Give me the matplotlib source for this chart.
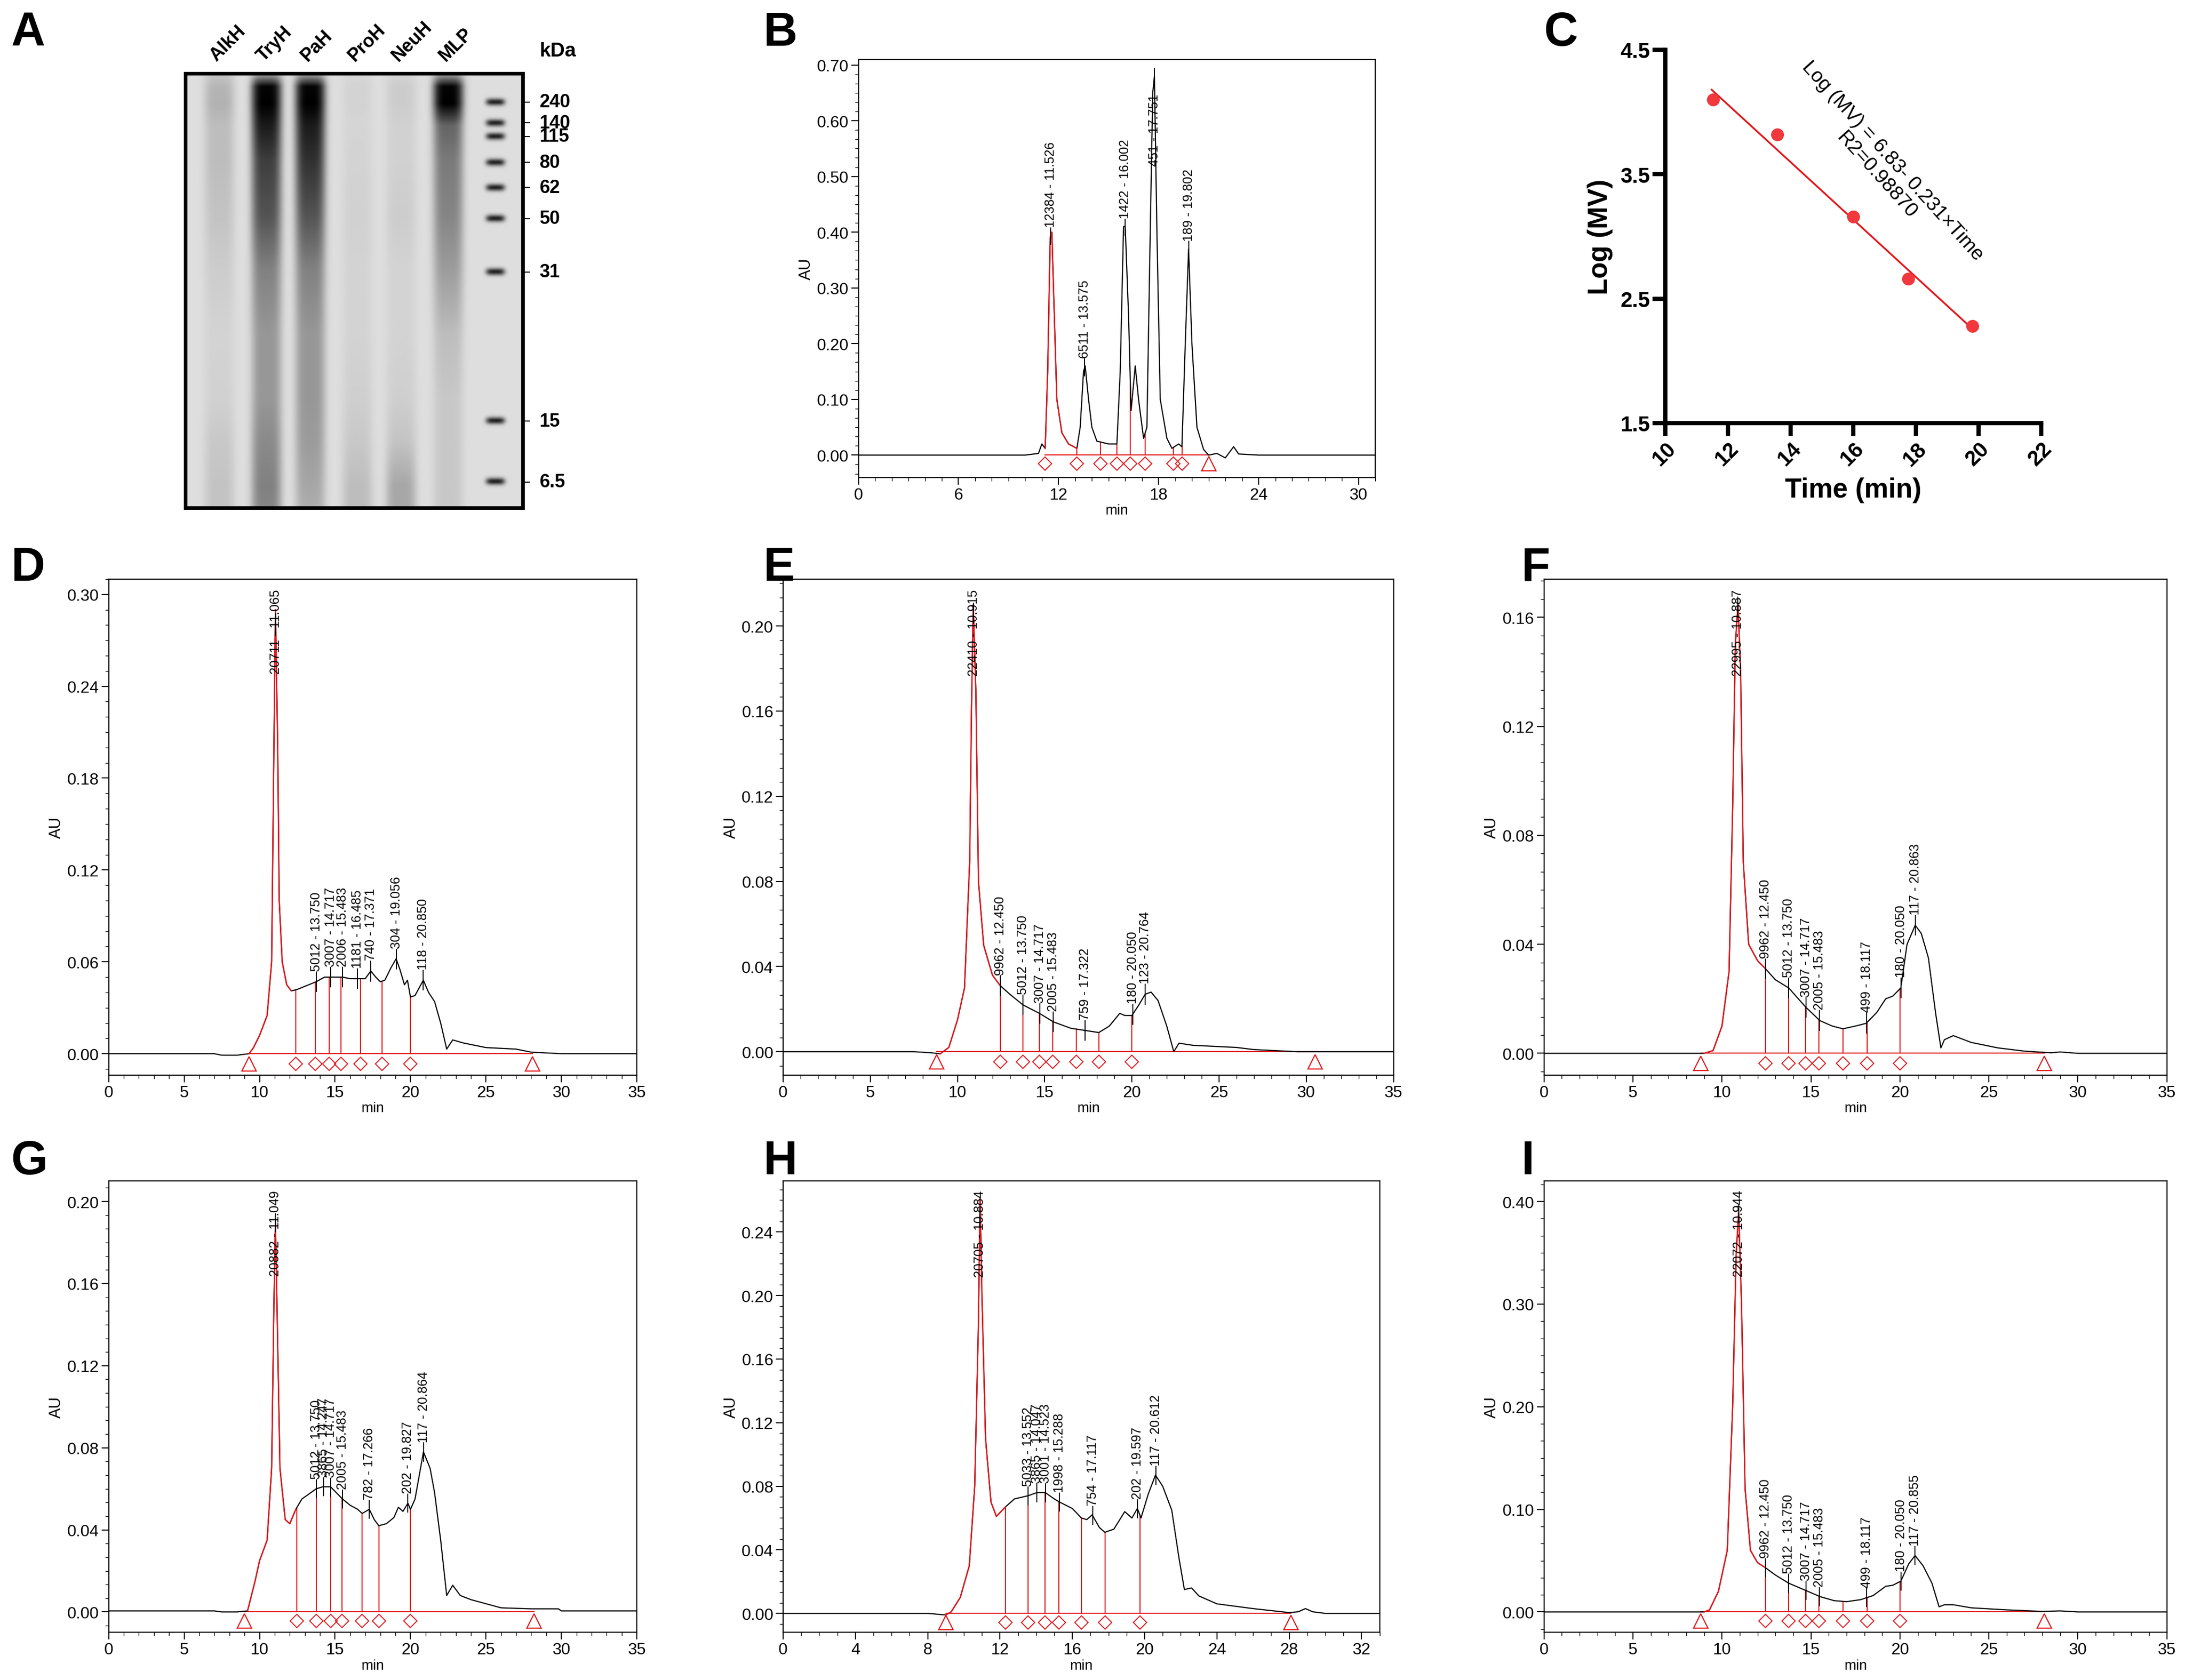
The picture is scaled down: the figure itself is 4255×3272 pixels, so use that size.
import numpy as np
import matplotlib
matplotlib.use("Agg")
import matplotlib.pyplot as plt
from matplotlib.ticker import MultipleLocator, FormatStrFormatter

plt.rcParams["font.family"] = "Liberation Sans"

# ---------------- data ----------------
gel_lanes = ["AlkH", "TryH", "PaH", "ProH", "NeuH", "MLP"]
gel_marker_kda = ["240", "140", "115", "80", "62", "50", "31", "15", "6.5"]
gel_marker_pos = [0.066, 0.114, 0.145, 0.205, 0.263, 0.334, 0.457, 0.80, 0.94]
gel_profile_pos = [0.0, 0.03, 0.07, 0.12, 0.20, 0.33, 0.45, 0.60, 0.75, 0.85, 0.95, 1.0]
gel_darkness = {
    "AlkH": [0.10, 0.18, 0.20, 0.15, 0.15, 0.12, 0.08, 0.05, 0.06, 0.10, 0.12, 0.12],
    "TryH": [0.20, 0.98, 1.00, 0.88, 0.72, 0.62, 0.42, 0.32, 0.32, 0.38, 0.42, 0.40],
    "PaH":  [0.20, 0.98, 1.00, 0.88, 0.78, 0.62, 0.42, 0.32, 0.32, 0.30, 0.25, 0.22],
    "ProH": [0.03, 0.05, 0.05, 0.04, 0.05, 0.06, 0.05, 0.05, 0.07, 0.10, 0.15, 0.15],
    "NeuH": [0.04, 0.08, 0.08, 0.06, 0.06, 0.08, 0.05, 0.05, 0.07, 0.12, 0.25, 0.25],
    "MLP":  [0.20, 0.98, 1.00, 0.55, 0.45, 0.40, 0.30, 0.15, 0.10, 0.10, 0.10, 0.10],
}
gel_lane_x = [0.10, 0.24, 0.37, 0.51, 0.64, 0.78]
gel_marker_x = 0.92

calib_time = [11.53, 13.58, 16.00, 17.75, 19.80]
calib_logmv = [4.10, 3.82, 3.16, 2.66, 2.28]
fit_intercept, fit_slope = 6.83, -0.231

chrom = {
    "B": dict(
        t=[0, 10, 10.8, 11.0, 11.2, 11.35, 11.5, 11.6, 11.75, 11.9, 12.2, 12.6, 13.1, 13.3, 13.5, 13.6, 13.8, 14.0, 14.3, 15.0, 15.5, 15.7, 15.9, 16.0, 16.2, 16.35, 16.6, 16.8, 17.1, 17.3, 17.5, 17.65, 17.75, 17.9, 18.1, 18.5, 18.8, 19.2, 19.4, 19.6, 19.8, 20.0, 20.3, 20.7, 21.0, 21.5, 22.0, 22.5, 22.8, 24, 31],
        y=[0, 0, 0.003, 0.02, 0.012, 0.15, 0.39, 0.40, 0.25, 0.10, 0.04, 0.02, 0.012, 0.05, 0.15, 0.16, 0.10, 0.05, 0.025, 0.02, 0.02, 0.15, 0.41, 0.41, 0.25, 0.08, 0.16, 0.10, 0.03, 0.05, 0.40, 0.65, 0.68, 0.40, 0.10, 0.03, 0.012, 0.02, 0.015, 0.20, 0.37, 0.20, 0.05, 0.01, 0.0, 0.003, -0.005, 0.015, 0.002, 0, 0],
        bounds=[11.2, 13.1, 14.5, 15.5, 16.3, 17.2, 18.9, 19.4], tri=[None, 21.0],
        peaks=[11.526, 13.575, 16.002, 17.751, 19.802],
        labels=["12384 - 11.526", "6511 - 13.575", "1422 - 16.002", "451 - 17.751", "189 - 19.802"],
        xlim=(0, 31), xstep=6, ylim=(-0.04, 0.71), ystep=0.10, fmt="%.2f", ylabel="AU"),
    "D": dict(
        t=[0, 7, 7.5, 8.5, 9.3, 9.6, 10.0, 10.5, 10.8, 10.95, 11.05, 11.2, 11.3, 11.5, 11.8, 12.1, 12.5, 13.0, 13.75, 14.3, 15, 15.5, 16, 16.5, 17.0, 17.37, 17.7, 18.0, 18.3, 18.7, 19.05, 19.3, 19.6, 19.8, 20.0, 20.3, 20.85, 21.2, 21.6, 22.0, 22.4, 22.8, 23.5, 25, 27, 28, 30, 35],
        y=[0, 0, -0.001, -0.001, 0.0, 0.004, 0.012, 0.025, 0.06, 0.20, 0.29, 0.20, 0.10, 0.06, 0.045, 0.041, 0.042, 0.044, 0.047, 0.050, 0.050, 0.050, 0.049, 0.049, 0.049, 0.054, 0.050, 0.047, 0.048, 0.056, 0.062, 0.055, 0.045, 0.048, 0.037, 0.038, 0.048, 0.040, 0.034, 0.020, 0.003, 0.009, 0.007, 0.004, 0.003, 0.001, 0.0, 0],
        bounds=[12.4, 13.7, 14.6, 15.4, 16.7, 18.1, 20.0], tri=[9.3, 28.1],
        peaks=[11.065, 13.750, 14.717, 15.483, 16.485, 17.371, 19.056, 20.850],
        labels=["20711 - 11.065", "5012 - 13.750", "3007 - 14.717", "2006 - 15.483", "1181 - 16.485", "740 - 17.371", "304 - 19.056", "118 - 20.850"],
        xlim=(0, 35), xstep=5, ylim=(-0.014, 0.31), ystep=0.06, fmt="%.2f", ylabel="AU"),
    "E": dict(
        t=[0, 7.5, 8.5, 9.0, 9.5, 10, 10.4, 10.7, 10.8, 10.9, 11.05, 11.2, 11.5, 12.0, 12.45, 13, 13.75, 14.7, 15.5, 16.5, 17.3, 18.1, 18.7, 19.3, 19.6, 20.0, 20.4, 20.76, 21.1, 21.5, 22.0, 22.4, 22.7, 23.5, 26, 27, 29.5, 35],
        y=[0, 0, -0.0005, -0.001, 0.002, 0.015, 0.030, 0.090, 0.160, 0.210, 0.170, 0.080, 0.050, 0.036, 0.031, 0.027, 0.022, 0.018, 0.014, 0.011, 0.010, 0.009, 0.012, 0.018, 0.017, 0.017, 0.022, 0.027, 0.028, 0.024, 0.012, 0.0, 0.004, 0.003, 0.002, 0.001, 0.0, 0],
        bounds=[12.45, 13.75, 14.7, 15.45, 16.8, 18.1, 20.0], tri=[8.8, 30.5],
        peaks=[10.915, 12.450, 13.750, 14.717, 15.483, 17.322, 20.050, 20.764],
        labels=["22410 - 10.915", "9962 - 12.450", "5012 - 13.750", "3007 - 14.717", "2005 - 15.483", "759 - 17.322", "180 - 20.050", "123 - 20.764"],
        xlim=(0, 35), xstep=5, ylim=(-0.011, 0.222), ystep=0.04, fmt="%.2f", ylabel="AU"),
    "F": dict(
        t=[0, 9, 9.5, 10, 10.4, 10.6, 10.75, 10.9, 11.05, 11.2, 11.5, 12.0, 12.45, 13.0, 13.75, 14.7, 15.5, 16.2, 16.8, 17.5, 18.1, 18.7, 19.2, 19.6, 20.05, 20.4, 20.86, 21.2, 21.6, 22.0, 22.3, 22.5, 23, 24, 25.5, 27, 28.5, 29, 30, 35],
        y=[0, 0, 0.001, 0.010, 0.030, 0.090, 0.150, 0.165, 0.140, 0.070, 0.040, 0.034, 0.031, 0.027, 0.024, 0.017, 0.012, 0.010, 0.009, 0.010, 0.011, 0.015, 0.020, 0.021, 0.024, 0.040, 0.047, 0.044, 0.035, 0.015, 0.002, 0.005, 0.0065, 0.004, 0.002, 0.0008, 0.0002, 0.0005, 0, 0],
        bounds=[12.45, 13.75, 14.7, 15.45, 16.8, 18.15, 20.0], tri=[8.8, 28.1],
        peaks=[10.887, 12.450, 13.750, 14.717, 15.483, 18.117, 20.050, 20.863],
        labels=["22995 - 10.887", "9962 - 12.450", "5012 - 13.750", "3007 - 14.717", "2005 - 15.483", "499 - 18.117", "180 - 20.050", "117 - 20.863"],
        xlim=(0, 35), xstep=5, ylim=(-0.008, 0.174), ystep=0.04, fmt="%.2f", ylabel="AU"),
    "G": dict(
        t=[0, 7, 7.5, 8.5, 9.2, 9.7, 10, 10.5, 10.8, 10.95, 11.05, 11.2, 11.35, 11.7, 12.0, 12.4, 12.8, 13.75, 14.2, 14.7, 15.1, 15.5, 16.0, 16.5, 16.8, 17.27, 17.6, 17.9, 18.4, 18.9, 19.2, 19.5, 19.83, 20.0, 20.3, 20.86, 21.3, 21.6, 22.0, 22.4, 22.8, 23.3, 24, 25, 26, 28, 29.8, 30, 35],
        y=[0.0005, 0.0005, 0, 0, 0.0005, 0.015, 0.025, 0.035, 0.07, 0.15, 0.19, 0.13, 0.07, 0.045, 0.043, 0.050, 0.055, 0.060, 0.061, 0.061, 0.058, 0.055, 0.052, 0.050, 0.048, 0.050, 0.045, 0.042, 0.043, 0.046, 0.051, 0.049, 0.053, 0.050, 0.055, 0.078, 0.070, 0.058, 0.035, 0.008, 0.013, 0.008, 0.006, 0.004, 0.002, 0.0015, 0.0015, 0.0005, 0.0005],
        bounds=[12.45, 13.75, 14.7, 15.45, 16.8, 17.9, 20.0], tri=[9.0, 28.2],
        peaks=[11.049, 13.750, 14.247, 14.717, 15.483, 17.266, 19.827, 20.864],
        labels=["20882 - 11.049", "5012 - 13.750", "3865 - 14.247", "3007 - 14.717", "2005 - 15.483", "782 - 17.266", "202 - 19.827", "117 - 20.864"],
        xlim=(0, 35), xstep=5, ylim=(-0.010, 0.21), ystep=0.04, fmt="%.2f", ylabel="AU"),
    "H": dict(
        t=[0, 8, 9, 9.3, 9.8, 10.3, 10.6, 10.8, 10.9, 11.0, 11.2, 11.5, 11.8, 12.3, 12.8, 13.55, 14.05, 14.5, 15.0, 15.3, 16.0, 16.5, 16.8, 17.1, 17.5, 17.8, 18.3, 18.9, 19.3, 19.6, 19.8, 20.2, 20.6, 21.0, 21.5, 21.9, 22.2, 22.6, 23, 24, 26, 28, 28.5, 28.9, 29.3, 30, 33],
        y=[0, 0, -0.001, 0.001, 0.010, 0.030, 0.080, 0.180, 0.262, 0.200, 0.110, 0.070, 0.061, 0.067, 0.072, 0.074, 0.076, 0.076, 0.072, 0.070, 0.066, 0.060, 0.059, 0.062, 0.054, 0.051, 0.053, 0.064, 0.060, 0.066, 0.060, 0.075, 0.087, 0.080, 0.065, 0.035, 0.015, 0.016, 0.011, 0.006, 0.003, 0.0005, 0.001, 0.003, 0.001, 0, 0],
        bounds=[12.3, 13.55, 14.5, 15.25, 16.5, 17.8, 19.75], tri=[9.0, 28.1],
        peaks=[10.884, 13.552, 14.047, 14.523, 15.288, 17.117, 19.597, 20.612],
        labels=["20705 - 10.884", "5033 - 13.552", "3865 - 14.047", "3001 - 14.523", "1998 - 15.288", "754 - 17.117", "202 - 19.597", "117 - 20.612"],
        xlim=(0, 33), xstep=4, ylim=(-0.012, 0.272), ystep=0.04, fmt="%.2f", ylabel="AU"),
    "I": dict(
        t=[0, 9, 9.3, 9.8, 10.3, 10.6, 10.8, 10.94, 11.1, 11.3, 11.6, 12.0, 12.45, 13.0, 13.75, 14.7, 15.5, 16.3, 17.0, 17.8, 18.5, 19.2, 19.6, 20.05, 20.5, 20.85, 21.3, 21.8, 22.2, 22.5, 23, 24, 26, 28, 29, 30, 35],
        y=[0, 0, 0.002, 0.020, 0.060, 0.200, 0.350, 0.390, 0.300, 0.120, 0.060, 0.048, 0.043, 0.036, 0.028, 0.021, 0.015, 0.011, 0.010, 0.012, 0.016, 0.025, 0.026, 0.030, 0.047, 0.055, 0.045, 0.028, 0.005, 0.007, 0.007, 0.004, 0.002, 0.0005, 0.001, 0, 0],
        bounds=[12.45, 13.75, 14.7, 15.45, 16.8, 18.15, 20.0], tri=[8.8, 28.1],
        peaks=[10.944, 12.450, 13.750, 14.717, 15.483, 18.117, 20.050, 20.855],
        labels=["22072 - 10.944", "9962 - 12.450", "5012 - 13.750", "3007 - 14.717", "2005 - 15.483", "499 - 18.117", "180 - 20.050", "117 - 20.855"],
        xlim=(0, 35), xstep=5, ylim=(-0.020, 0.42), ystep=0.10, fmt="%.2f", ylabel="AU"),
}

W, H = 4255, 3273
fig = plt.figure(figsize=(W / 100, H / 100), dpi=100)


def frac(x0, y0, x1, y1):
    s = W / 1568.0
    return [x0 * s / W, 1 - y1 * s / H, (x1 - x0) * s / W, (y1 - y0) * s / H]


RED = "#e3161b"


def draw_chrom(ax, d):
    t = np.array(d["t"], float)
    y = np.array(d["y"], float)
    yr = d["ylim"][1] - d["ylim"][0]
    ax.plot(t, y, color="black", lw=1.6, zorder=3)
    start = d["tri"][0] if d["tri"][0] is not None else d["bounds"][0]
    m = (t >= start) & (t <= d["bounds"][1] if d["tri"][0] is None else t <= d["bounds"][0])
    ax.plot(t[m], y[m], color=RED, lw=1.8, zorder=4)
    end = d["tri"][1]
    ax.plot([start, end], [0, 0], color=RED, lw=1.5, zorder=2)
    drops = d["bounds"] if d["tri"][0] is not None else d["bounds"][1:]
    for b in drops:
        ax.plot([b, b], [0, np.interp(b, t, y)], color=RED, lw=1.5, zorder=2)
    ax.plot(d["bounds"], [-0.02 * yr] * len(d["bounds"]), ls="none", marker="D", ms=13,
            mfc="none", mec=RED, mew=1.4, zorder=5)
    tris = [v for v in d["tri"] if v is not None]
    ax.plot(tris, [-0.02 * yr] * len(tris), ls="none", marker="^", ms=20,
            mfc="none", mec=RED, mew=1.6, zorder=5)
    for i, (pk, lab) in enumerate(zip(d["peaks"], d["labels"])):
        ya = np.interp(pk, t, y)
        ax.plot([pk, pk], [ya - 0.02 * yr, ya + 0.02 * yr], color="black", lw=1.4, zorder=6)
        if i == 0 and d["tri"][0] is not None:
            ax.text(pk, d["ylim"][1] - 0.02 * yr, lab, rotation=90, ha="center", va="top",
                    fontsize=18, zorder=7)
        elif ya > 0.8 * d["ylim"][1]:
            ax.text(pk, ya - 0.04 * yr, lab, rotation=90, ha="center", va="top",
                    fontsize=18, zorder=7)
        else:
            ax.text(pk, ya + 0.022 * yr, lab, rotation=90, ha="center", va="bottom",
                    fontsize=18, zorder=7)
    ax.set_xlim(*d["xlim"])
    ax.set_ylim(*d["ylim"])
    ax.xaxis.set_major_locator(MultipleLocator(d["xstep"]))
    ax.xaxis.set_minor_locator(MultipleLocator(1))
    ax.yaxis.set_major_locator(MultipleLocator(d["ystep"]))
    ax.yaxis.set_minor_locator(MultipleLocator(d["ystep"] / 6))
    ax.yaxis.set_major_formatter(FormatStrFormatter(d["fmt"]))
    ax.tick_params(which="major", direction="out", length=10, width=1.5, labelsize=23)
    ax.tick_params(which="minor", direction="out", length=5, width=1.0)
    for s in ax.spines.values():
        s.set_linewidth(1.6)
    ax.set_xlabel("min", fontsize=20, labelpad=2)
    ax.set_ylabel(d["ylabel"], fontsize=22)


boxes = {
    "B": frac(616, 43, 987, 343),
    "D": frac(78, 416, 457, 772),
    "E": frac(562, 416, 1000, 772),
    "F": frac(1108, 416, 1555, 772),
    "G": frac(78, 848, 457, 1172),
    "H": frac(562, 848, 990, 1172),
    "I": frac(1108, 848, 1555, 1172),
}
for k, b in boxes.items():
    ax = fig.add_axes(b)
    draw_chrom(ax, chrom[k])

# ---------------- panel A: gel ----------------
axA = fig.add_axes(frac(133, 53, 375, 365))
ny, nx = 500, 400
yy = np.linspace(0, 1, ny)[:, None]
xx = np.linspace(0, 1, nx)[None, :]
img = np.full((ny, nx), 0.87)
dark = np.zeros((ny, nx))
for lane, lx in zip(gel_lanes, gel_lane_x):
    prof = np.interp(yy[:, 0], gel_profile_pos, gel_darkness[lane])[:, None]
    mask = np.exp(-((xx - lx) / 0.045) ** 4)
    dark += prof * mask
for mp in gel_marker_pos:
    dark += 0.85 * np.exp(-((xx - gel_marker_x) / 0.028) ** 4) * np.exp(-((yy - mp) / 0.008) ** 2)
img = np.clip(img - 0.87 * dark, 0, 1)
axA.imshow(img, cmap="gray", vmin=0, vmax=1, extent=[0, 1, 1, 0], aspect="auto")
axA.set_xlim(0, 1)
axA.set_ylim(1, 0)
axA.set_xticks([])
axA.set_yticks([])
for s in axA.spines.values():
    s.set_linewidth(5)
for lane, lx in zip(gel_lanes, gel_lane_x):
    axA.text(lx, -0.02, lane, rotation=45, ha="left", va="bottom", fontsize=26,
             fontweight="bold", clip_on=False, rotation_mode="anchor")
for kda, mp in zip(gel_marker_kda, gel_marker_pos):
    axA.plot([1.0, 1.02], [mp, mp], color="black", lw=1.5, clip_on=False)
    axA.text(1.05, mp, kda, ha="left", va="center", fontsize=26, fontweight="bold", clip_on=False)
axA.text(1.05, -0.03, "kDa", ha="left", va="bottom", fontsize=28, fontweight="bold", clip_on=False)

# ---------------- panel C: calibration ----------------
axC = fig.add_axes(frac(1195, 36, 1465, 304))
fit_x = np.array([min(calib_time) - 0.05, max(calib_time)])
axC.plot(fit_x, fit_intercept + fit_slope * fit_x, color=RED, lw=2.5, zorder=2)
axC.plot(calib_time, calib_logmv, "o", color="#f0383d", ms=17, zorder=3)
axC.set_xlim(10, 22)
axC.set_ylim(1.5, 4.5)
axC.set_xticks(range(10, 23, 2))
axC.set_yticks([1.5, 2.5, 3.5, 4.5])
axC.spines["top"].set_visible(False)
axC.spines["right"].set_visible(False)
for s in ("left", "bottom"):
    axC.spines[s].set_linewidth(6)
axC.tick_params(direction="out", length=18, width=6, labelsize=30)
for lab in axC.get_xticklabels():
    lab.set_rotation(45)
    lab.set_fontweight("bold")
    lab.set_ha("right")
    lab.set_rotation_mode("anchor")
for lab in axC.get_yticklabels():
    lab.set_fontweight("bold")
axC.set_xlabel("Time (min)", fontsize=38, fontweight="bold", labelpad=10)
axC.set_ylabel("Log (MV)", fontsize=38, fontweight="bold", labelpad=10)
axC.text(17.0, 3.55, "Log (MV) = 6.83- 0.231×Time\nR2=0.98870", rotation=-48,
         ha="center", va="center", fontsize=28, multialignment="center",
         rotation_mode="anchor")

# ---------------- panel letters ----------------
letters = {"A": (8, 8), "B": (548, 8), "C": (1108, 8), "D": (8, 392), "E": (548, 392),
           "F": (1092, 392), "G": (8, 818), "H": (548, 818), "I": (1092, 818)}
for L, (px, py) in letters.items():
    fig.text(px / 1568, 1 - py * (W / 1568) / H, L, fontsize=66, fontweight="bold",
             ha="left", va="top")

fig.savefig("out.png", dpi=100)
